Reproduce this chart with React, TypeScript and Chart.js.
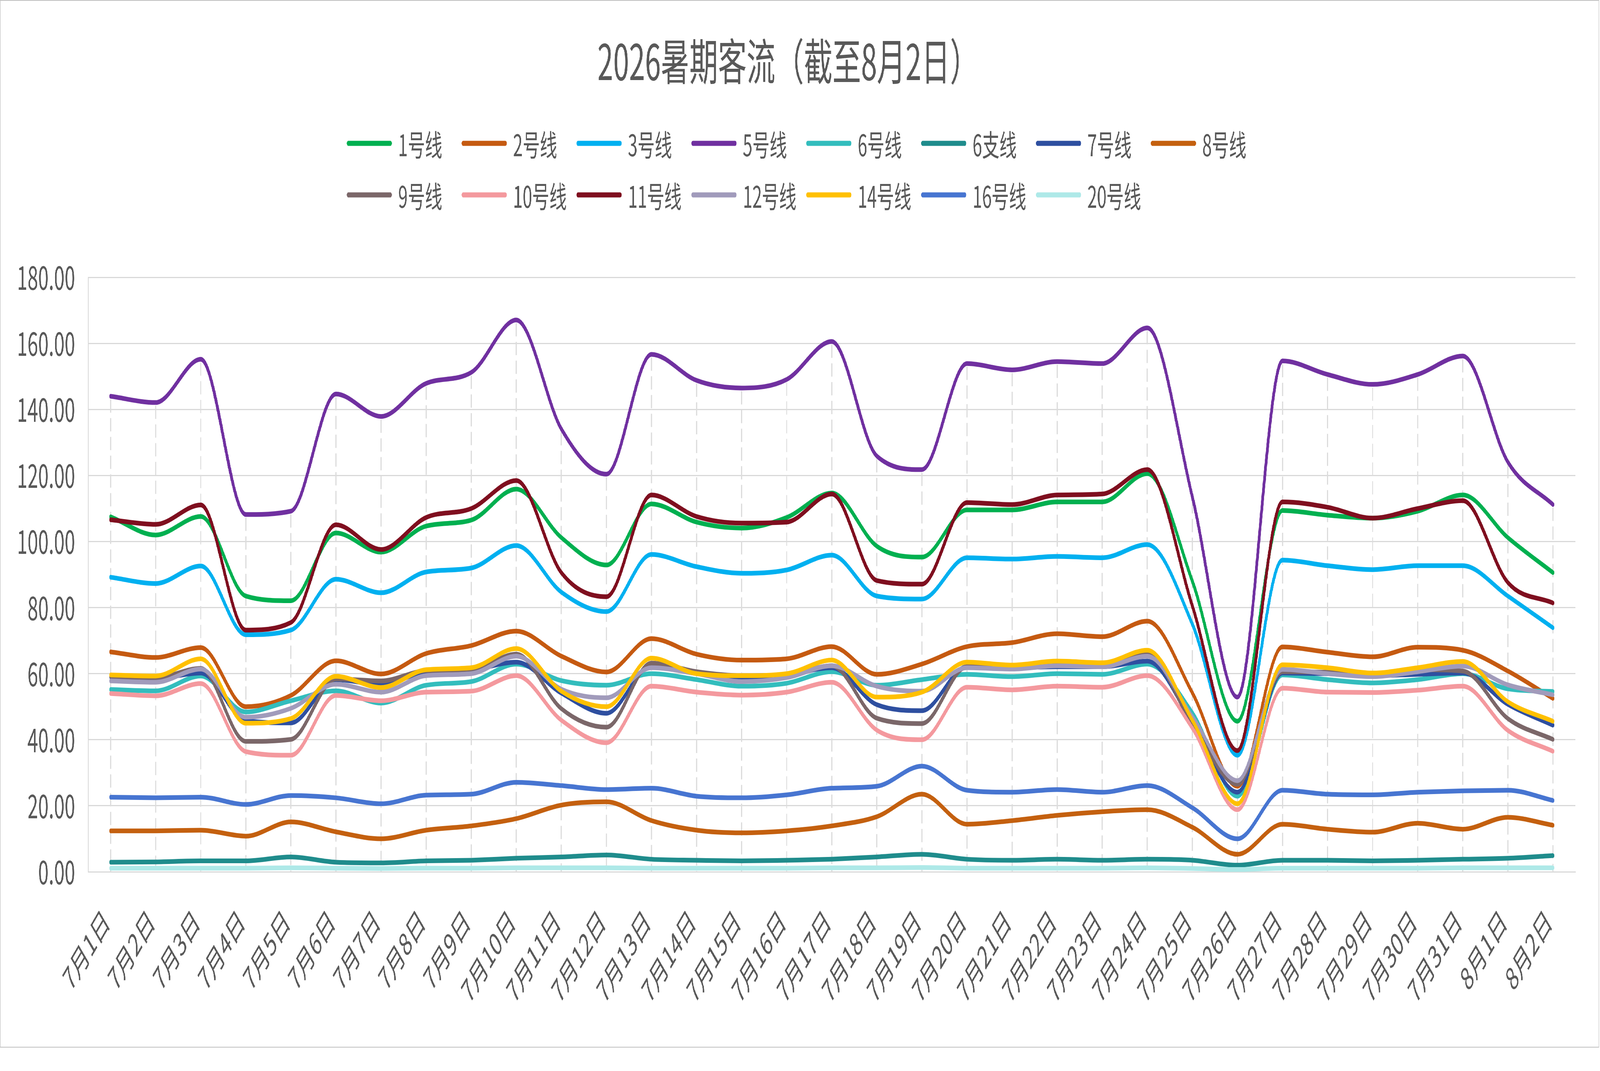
import React, { useEffect, useRef } from 'react';
import { Chart, registerables } from 'chart.js';

Chart.register(...registerables);

const days: string[] = [
  '7月1日', '7月2日', '7月3日', '7月4日', '7月5日', '7月6日', '7月7日', '7月8日', '7月9日', '7月10日',
  '7月11日', '7月12日', '7月13日', '7月14日', '7月15日', '7月16日', '7月17日', '7月18日', '7月19日', '7月20日',
  '7月21日', '7月22日', '7月23日', '7月24日', '7月25日', '7月26日', '7月27日', '7月28日', '7月29日', '7月30日',
  '7月31日', '8月1日', '8月2日',
];

const lineNames: string[] = [
  '1号线', '2号线', '3号线', '5号线', '6号线', '6支线', '7号线', '8号线',
  '9号线', '10号线', '11号线', '12号线', '14号线', '16号线', '20号线',
];

const lineColors: string[] = [
  '#00B050', '#C55A11', '#00B0F0', '#7030A0', '#33BDBD', '#1F8C8C', '#2E4FA0', '#C4600F',
  '#7B6769', '#F4999E', '#7F0F1F', '#A19BBB', '#FFC000', '#4775D1', '#AEE9E8',
];

const line1 = [107.5, 102.0, 107.6, 83.5, 82.1, 102.6, 96.8, 104.7, 106.5, 115.9, 101.2, 92.9, 111.4, 105.9, 104.1, 107.3, 114.7, 98.6, 95.3, 109.6, 109.6, 112.0, 112.0, 120.6, 88.0, 45.6, 109.4, 108.0, 107.1, 109.2, 114.1, 101.2, 90.6];
const line2 = [66.6, 64.9, 67.9, 50.0, 53.4, 63.9, 59.9, 66.1, 68.5, 72.9, 65.3, 60.5, 70.6, 65.9, 64.1, 64.5, 68.2, 59.8, 62.9, 68.2, 69.4, 72.1, 71.2, 75.9, 54.2, 25.9, 68.1, 66.5, 65.1, 68.0, 67.1, 60.8, 52.5];
const line3 = [89.2, 87.3, 92.6, 71.8, 73.2, 88.6, 84.5, 90.8, 92.0, 98.8, 84.7, 78.8, 96.1, 92.4, 90.4, 91.4, 95.9, 83.5, 82.6, 95.1, 94.7, 95.5, 95.1, 99.1, 75.0, 35.3, 94.4, 92.7, 91.5, 92.7, 92.7, 83.5, 73.9];
const line5 = [144.0, 142.1, 155.2, 108.2, 109.2, 144.7, 137.9, 147.9, 151.2, 167.1, 134.1, 120.4, 156.7, 148.8, 146.5, 149.1, 160.6, 125.9, 121.8, 153.9, 152.0, 154.5, 153.9, 164.7, 113.5, 52.9, 154.7, 150.6, 147.6, 150.6, 156.2, 124.1, 111.2];
const line6 = [55.2, 54.8, 59.3, 48.4, 51.8, 54.8, 51.1, 56.5, 57.6, 62.9, 57.9, 56.5, 60.0, 58.2, 56.2, 57.1, 60.6, 56.5, 58.2, 59.8, 59.1, 60.0, 59.8, 62.9, 48.2, 22.9, 59.6, 58.2, 57.2, 58.2, 60.0, 55.4, 54.6];
const line6b = [2.9, 3.0, 3.3, 3.3, 4.5, 2.9, 2.7, 3.3, 3.5, 4.1, 4.5, 5.1, 3.8, 3.5, 3.3, 3.5, 3.8, 4.5, 5.3, 3.8, 3.5, 3.8, 3.5, 3.8, 3.5, 2.0, 3.5, 3.5, 3.3, 3.5, 3.8, 4.1, 4.9];
const line7 = [59.0, 58.6, 60.2, 45.8, 45.1, 58.2, 56.7, 60.6, 61.2, 63.5, 54.1, 48.0, 62.4, 60.5, 59.0, 59.6, 61.8, 50.6, 48.8, 62.1, 61.8, 62.1, 62.1, 63.8, 45.3, 24.1, 60.2, 60.0, 59.4, 59.8, 60.2, 50.7, 44.4];
const line8 = [12.4, 12.4, 12.6, 10.8, 15.1, 12.1, 10.0, 12.6, 13.9, 16.1, 20.2, 21.2, 15.5, 12.6, 11.8, 12.4, 13.9, 16.7, 23.5, 14.4, 15.5, 17.1, 18.2, 18.8, 13.5, 5.3, 14.4, 12.9, 12.0, 14.7, 12.9, 16.5, 14.1];
const line9 = [59.2, 58.8, 61.6, 39.5, 40.1, 58.4, 57.8, 60.9, 61.2, 65.9, 49.4, 43.8, 63.2, 60.6, 59.4, 59.6, 62.4, 46.5, 44.9, 62.1, 62.1, 62.6, 62.6, 65.9, 44.7, 26.5, 60.6, 60.4, 59.6, 61.2, 60.8, 46.4, 40.1];
const line10 = [54.0, 53.3, 57.0, 36.4, 35.3, 53.4, 51.8, 54.4, 54.7, 59.4, 45.9, 39.1, 56.2, 54.4, 53.5, 54.4, 57.4, 42.9, 40.0, 55.9, 55.1, 56.2, 55.9, 59.4, 43.5, 18.8, 55.6, 54.4, 54.3, 55.0, 56.2, 42.8, 36.5];
const line11 = [106.6, 105.2, 111.1, 73.2, 75.5, 105.1, 97.6, 107.3, 110.0, 118.5, 90.6, 83.3, 114.1, 107.6, 105.6, 105.9, 114.4, 88.2, 87.1, 111.8, 111.2, 114.1, 114.4, 121.8, 80.5, 36.7, 112.0, 110.4, 107.1, 110.0, 112.4, 87.6, 81.4];
const line12 = [57.8, 57.4, 61.4, 46.8, 49.5, 56.8, 54.4, 59.4, 60.0, 65.3, 55.3, 52.7, 61.8, 60.0, 57.6, 58.8, 62.4, 56.2, 54.7, 61.8, 61.4, 62.4, 62.1, 65.3, 47.0, 27.6, 61.3, 60.0, 59.1, 60.6, 62.3, 56.6, 53.6];
const line14 = [59.6, 59.3, 64.5, 45.0, 46.4, 59.2, 55.8, 61.2, 61.8, 67.6, 54.7, 50.0, 64.7, 60.0, 59.4, 60.0, 64.1, 52.9, 54.4, 63.5, 62.6, 63.8, 63.3, 67.1, 45.9, 20.6, 62.7, 61.8, 60.2, 61.8, 63.7, 51.5, 45.6];
const line16 = [22.6, 22.4, 22.6, 20.4, 23.1, 22.4, 20.6, 23.2, 23.5, 27.1, 26.1, 24.9, 25.3, 22.9, 22.4, 23.3, 25.3, 25.9, 32.0, 24.7, 24.1, 24.9, 24.1, 26.1, 19.4, 10.0, 24.7, 23.5, 23.3, 24.1, 24.5, 24.7, 21.6];
const line20 = [1.1, 1.1, 1.1, 1.1, 1.2, 1.1, 1.0, 1.1, 1.1, 1.2, 1.2, 1.2, 1.1, 1.1, 1.1, 1.1, 1.2, 1.2, 1.3, 1.1, 1.1, 1.1, 1.1, 1.2, 1.0, 0.7, 1.1, 1.1, 1.1, 1.1, 1.2, 1.2, 1.2];

const seriesValues: number[][] = [
  line1, line2, line3, line5, line6, line6b, line7, line8,
  line9, line10, line11, line12, line14, line16, line20,
];

const yTicks: number[] = [0, 20, 40, 60, 80, 100, 120, 140, 160, 180];

const FONT = '"Noto Sans CJK SC", "Noto Sans", sans-serif';
const TEXT_COLOR = '#595959';
const GRID_COLOR = '#D9D9D9';
const DESIGN_W = 7048;
const DESIGN_H = 2742;

// dashed drop lines from the highest series down to the axis
const dropLines = {
  id: 'dropLines',
  beforeDatasetsDraw(chart: any) {
    const { ctx, scales } = chart;
    const x = scales.x;
    const y = scales.y;
    ctx.save();
    ctx.strokeStyle = '#DCDCDC';
    ctx.lineWidth = 5;
    ctx.setLineDash([34, 14]);
    days.forEach((_, i) => {
      const top = Math.max(...chart.data.datasets.map((d: any) => d.data[i]));
      const px = x.getPixelForValue(i);
      ctx.beginPath();
      ctx.moveTo(px, y.getPixelForValue(top) + 8);
      ctx.lineTo(px, y.bottom);
      ctx.stroke();
    });
    ctx.restore();
  },
};

// Excel-like legend laid out in fixed columns
const gridLegend = {
  id: 'gridLegend',
  afterDraw(chart: any) {
    const { ctx } = chart;
    const perRow = 8;
    const startX = 1526;
    const colWidth = 506;
    const rowY = [365, 497];
    const lineLen = 198;
    ctx.save();
    ctx.font = `76px ${FONT}`;
    ctx.textBaseline = 'middle';
    ctx.textAlign = 'left';
    ctx.lineCap = 'round';
    chart.data.datasets.forEach((ds: any, i: number) => {
      const col = i % perRow;
      const row = Math.floor(i / perRow);
      const x0 = startX + col * colWidth;
      const yc = rowY[row];
      ctx.strokeStyle = ds.borderColor;
      ctx.lineWidth = 13;
      ctx.beginPath();
      ctx.moveTo(x0 + 6, yc);
      ctx.lineTo(x0 + lineLen - 6, yc);
      ctx.stroke();
      ctx.fillStyle = TEXT_COLOR;
      ctx.fillText(ds.label, x0 + lineLen + 28, yc + 4);
    });
    ctx.restore();
  },
};

const LineChart: React.FC = () => {
  const canvasRef = useRef<HTMLCanvasElement | null>(null);
  // the chart is laid out at 7048x2742 and fitted to whatever viewport we get
  const sx = window.innerWidth / DESIGN_W;
  const sy = window.innerHeight / DESIGN_H;

  useEffect(() => {
    document.body.style.overflow = 'hidden';
    if (!canvasRef.current) return;
    const ctx = canvasRef.current.getContext('2d');
    if (!ctx) return;

    const chartInstance = new Chart(ctx, {
      type: 'line',
      data: {
        labels: days,
        datasets: lineNames.map((name, i) => ({
          label: name,
          data: seriesValues[i],
          borderColor: lineColors[i],
          backgroundColor: lineColors[i],
          borderWidth: 12,
          borderCapStyle: 'round',
          borderJoinStyle: 'round',
          pointRadius: 0,
          cubicInterpolationMode: 'monotone',
          fill: false,
          order: lineNames.length - i, // later series on top, like Excel
        })),
      },
      options: {
        animation: false,
        responsive: true,
        maintainAspectRatio: false,
        devicePixelRatio: 1,
        layout: {
          padding: { left: 0, right: 102, top: 0, bottom: 0 },
        },
        plugins: {
          legend: { display: false },
          tooltip: { enabled: false },
          title: {
            display: true,
            text: '2026暑期客流（截至8月2日）',
            color: TEXT_COLOR,
            font: { size: 126, family: FONT, weight: 'normal', lineHeight: 1.2 },
            padding: { top: 80, bottom: 477 },
          },
        },
        scales: {
          x: {
            type: 'category',
            offset: true,
            grid: { display: false, drawTicks: false, offset: true },
            border: { display: true, color: GRID_COLOR, width: 3 },
            ticks: {
              autoSkip: false,
              maxRotation: 45,
              minRotation: 45,
              padding: 78,
              labelOffset: -20,
              color: TEXT_COLOR,
              font: { size: 80, family: FONT },
            },
            afterFit: (scale: any) => {
              scale.height = 448;
            },
          },
          y: {
            min: 0,
            max: 180,
            afterBuildTicks: (scale: any) => {
              scale.ticks = yTicks.map((v) => ({ value: v }));
            },
            grid: { color: GRID_COLOR, lineWidth: 3, drawTicks: false },
            border: { display: true, color: GRID_COLOR, width: 3 },
            ticks: {
              padding: 57,
              color: TEXT_COLOR,
              font: { size: 84, family: FONT },
              callback: (v: any) => Number(v).toFixed(2),
            },
            afterFit: (scale: any) => {
              scale.width = 386;
            },
          },
        },
      },
      plugins: [dropLines, gridLegend],
    });

    return () => {
      chartInstance.destroy();
    };
  }, []);

  return (
    <div
      style={{
        position: 'absolute',
        left: 0,
        top: 0,
        width: 7044,
        height: 2682,
        boxSizing: 'border-box',
        border: '2px solid #BFBFBF',
        background: '#FFFFFF',
        transformOrigin: '0 0',
        transform: `scale(${sx}, ${sy})`,
      }}
    >
      <div style={{ position: 'relative', width: 7040, height: 2678 }}>
        <canvas ref={canvasRef}></canvas>
      </div>
    </div>
  );
};

export default function App() {
  return <LineChart />;
}
